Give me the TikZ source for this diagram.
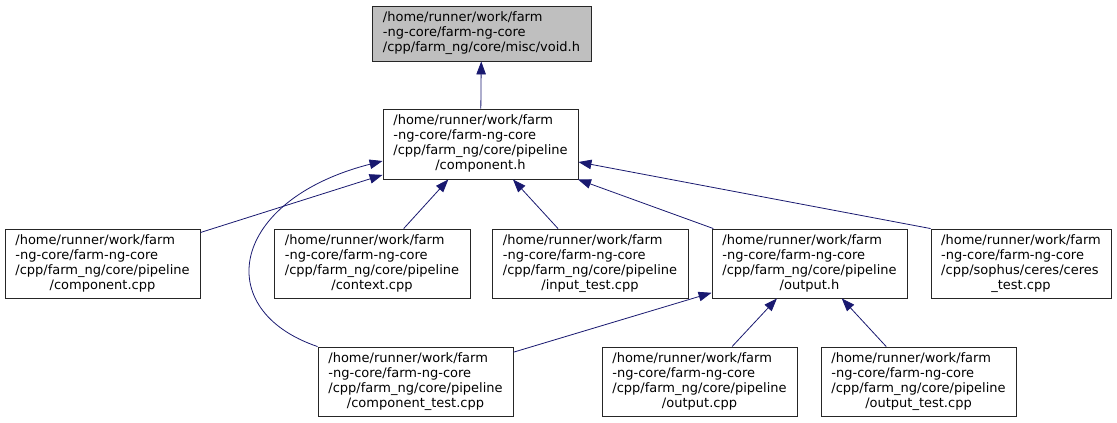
\documentclass[tikz,border=0pt]{standalone}
\usepackage{fontspec}
\setmainfont{DejaVu Sans}
\usetikzlibrary{arrows.meta}
\definecolor{edgeblue}{HTML}{191970}
\definecolor{rootgray}{HTML}{BFBFBF}
\newcommand{\fpath}[2]{\begin{tabular}{@{}l@{}}#1\\\multicolumn{1}{@{}c@{}}{#2}\end{tabular}}
\tikzset{
  file/.style={draw=black!85, fill=white, line width=0.9pt, rectangle, minimum width=195pt, minimum height=69pt, inner sep=0pt, font=\fontsize{13}{15}\selectfont},
  root/.style={file, fill=rootgray, minimum width=219pt, minimum height=55pt},
  edge/.style={draw=edgeblue, line width=0.8pt, -{Triangle[length=13pt,width=9.5pt]}}
}
\begin{document}
\begin{tikzpicture}[x=1pt,y=-1pt]
\useasboundingbox (0,0) rectangle (1117,423);
\node[root] (v) at (481.5,33.5) {\fpath{/home/runner/work/farm\\-ng-core/farm-ng-core}{/cpp/farm\_ng/core/misc/void.h}};
\node[file, minimum height=70pt] (ch) at (480.5,144) {\fpath{/home/runner/work/farm\\-ng-core/farm-ng-core\\/cpp/farm\_ng/core/pipeline}{/component.h}};
\node[file] (cc) at (102.5,263.5) {\fpath{/home/runner/work/farm\\-ng-core/farm-ng-core\\/cpp/farm\_ng/core/pipeline}{/component.cpp}};
\node[file, minimum width=196pt] (ctx) at (372,263.5) {\fpath{/home/runner/work/farm\\-ng-core/farm-ng-core\\/cpp/farm\_ng/core/pipeline}{/context.cpp}};
\node[file, minimum width=196pt] (in) at (590,263.5) {\fpath{/home/runner/work/farm\\-ng-core/farm-ng-core\\/cpp/farm\_ng/core/pipeline}{/input\_test.cpp}};
\node[file] (oh) at (809.5,263.5) {\fpath{/home/runner/work/farm\\-ng-core/farm-ng-core\\/cpp/farm\_ng/core/pipeline}{/output.h}};
\node[file, minimum width=180pt] (ce) at (1021,263.5) {\fpath{/home/runner/work/farm\\-ng-core/farm-ng-core\\/cpp/sophus/ceres/ceres}{\_test.cpp}};
\node[file] (ct) at (415.5,381.5) {\fpath{/home/runner/work/farm\\-ng-core/farm-ng-core\\/cpp/farm\_ng/core/pipeline}{/component\_test.cpp}};
\node[file] (oc) at (699.5,381.5) {\fpath{/home/runner/work/farm\\-ng-core/farm-ng-core\\/cpp/farm\_ng/core/pipeline}{/output.cpp}};
\node[file] (ot) at (918.5,381.5) {\fpath{/home/runner/work/farm\\-ng-core/farm-ng-core\\/cpp/farm\_ng/core/pipeline}{/output\_test.cpp}};
\draw[edge] (ch) -- (v);
\draw[edge] (cc) -- (ch);
\draw[edge] (ct.north west) .. controls (210,310) and (230,200) .. ([yshift=-17pt]ch.west);
\draw[edge] (ctx) -- (ch);
\draw[edge] (in) -- (ch);
\draw[edge] (oh) -- (ch);
\draw[edge] (ce.north west) -- ([yshift=-18pt]ch.east);
\draw[edge] (ct) -- (oh);
\draw[edge] (oc) -- (oh);
\draw[edge] (ot) -- (oh);
\end{tikzpicture}
\end{document}
